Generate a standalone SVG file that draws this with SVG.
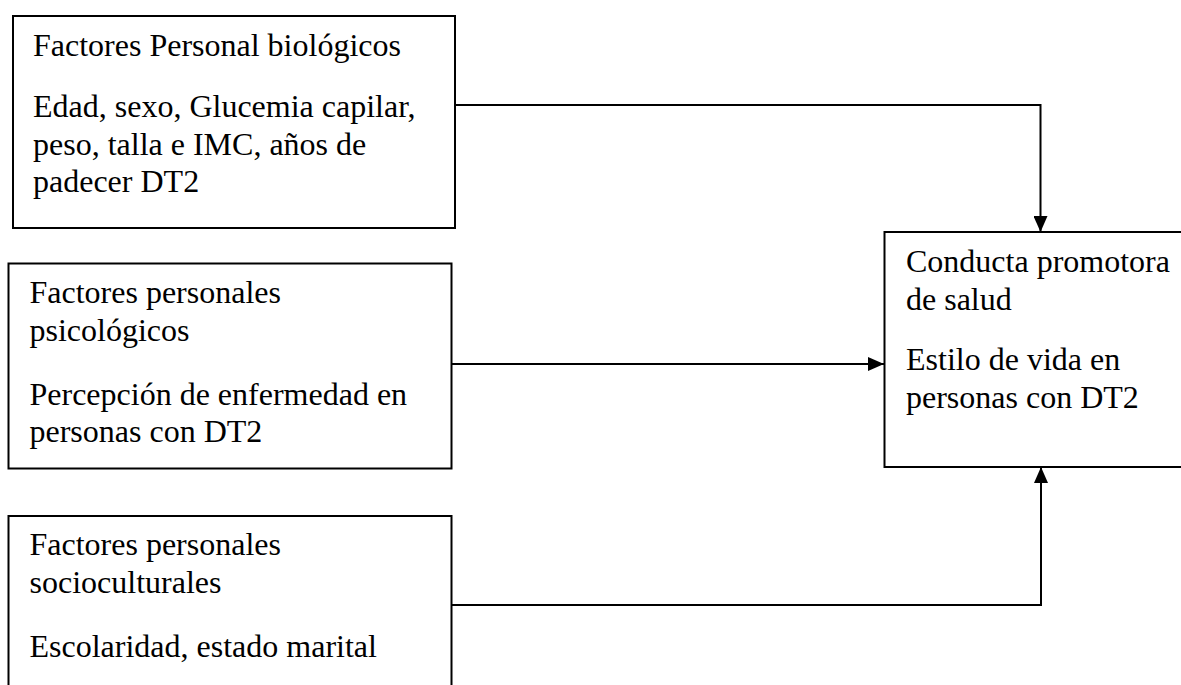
<svg xmlns="http://www.w3.org/2000/svg" width="1181" height="685" viewBox="0 0 1181 685">
<style>
.box{fill:#fff;stroke:#000;stroke-width:2}
.t{font-family:"Liberation Serif","Times New Roman",serif;font-size:32px;fill:#000}
.c{fill:none;stroke:#000;stroke-width:2}
</style>
<defs>
<marker id="ah" markerWidth="16" markerHeight="14" refX="16" refY="7" orient="auto" markerUnits="userSpaceOnUse">
<path d="M0,0 L16,7 L0,14 Z" fill="#000"/>
</marker>
</defs>
<rect width="1181" height="685" fill="#fff"/>
<g id="n-biologicos">
<rect class="box" x="13" y="16" width="442" height="212"/>
<text class="t" x="33" y="56">Factores Personal biológicos</text>
<text class="t" x="33" y="117">Edad, sexo, Glucemia capilar,</text>
<text class="t" x="33" y="154.5">peso, talla e IMC, años de</text>
<text class="t" x="33" y="192">padecer DT2</text>
</g>
<g id="n-psicologicos">
<rect class="box" x="8.5" y="263.5" width="443" height="205"/>
<text class="t" x="29.5" y="303">Factores personales</text>
<text class="t" x="29.5" y="340.5">psicológicos</text>
<text class="t" x="29.5" y="404.5">Percepción de enfermedad en</text>
<text class="t" x="29.5" y="442">personas con DT2</text>
</g>
<g id="n-socioculturales">
<rect class="box" x="8.5" y="516" width="443" height="200"/>
<text class="t" x="29.5" y="555">Factores personales</text>
<text class="t" x="29.5" y="592.5">socioculturales</text>
<text class="t" x="29.5" y="656.5">Escolaridad, estado marital</text>
</g>
<g id="n-conducta">
<rect class="box" x="884.5" y="232" width="310" height="235"/>
<text class="t" x="906" y="272">Conducta promotora</text>
<text class="t" x="906" y="309.5">de salud</text>
<text class="t" x="906" y="370">Estilo de vida en</text>
<text class="t" x="906" y="407.5">personas con DT2</text>
</g>
<g id="connectors">
<path class="c" d="M455,105 H1040.5 V232" marker-end="url(#ah)"/>
<path class="c" d="M451.5,364 H884" marker-end="url(#ah)"/>
<path class="c" d="M451.5,605 H1041 V467" marker-end="url(#ah)"/>
</g>
</svg>
